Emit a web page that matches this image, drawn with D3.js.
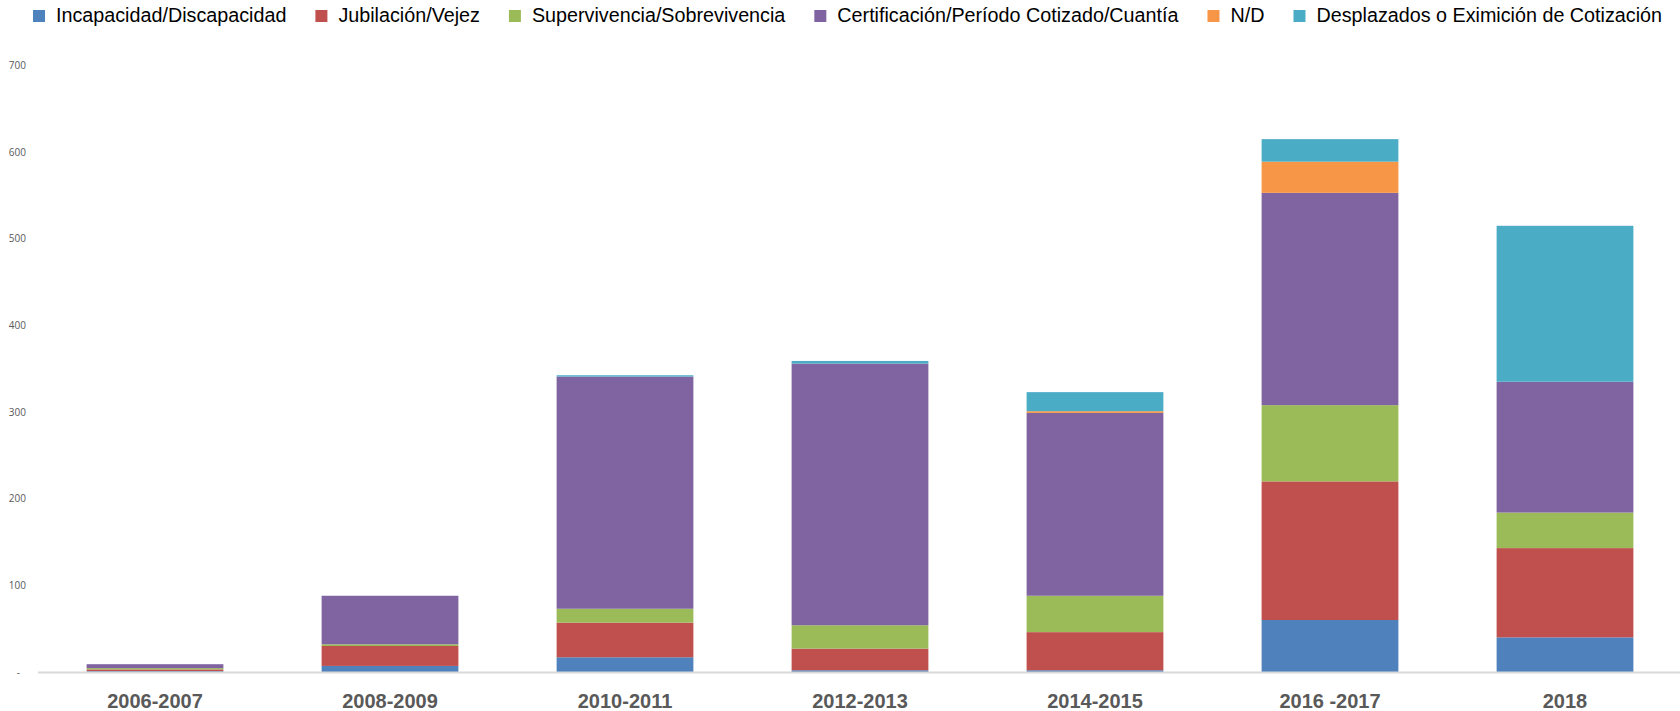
<!DOCTYPE html>
<html>
<head>
<meta charset="utf-8">
<script src="https://cdn.jsdelivr.net/npm/d3@7"></script>
<style>
  body { margin: 0; background: #fff; }
  svg { display: block; }
</style>
</head>
<body>
<svg width="1680" height="711"></svg>
<script>
var categories = ["2006-2007", "2008-2009", "2010-2011", "2012-2013", "2014-2015", "2016 -2017", "2018"];
var seriesNames = ["Incapacidad/Discapacidad", "Jubilación/Vejez", "Supervivencia/Sobrevivencia",
    "Certificación/Período Cotizado/Cuantía", "N/D", "Desplazados o Eximición de Cotización"];
var incapacidad   = [1, 7, 17, 2, 2, 60, 40];
var jubilacion    = [2, 23, 40, 25, 44, 160, 103];
var supervivencia = [1.5, 2, 16, 27, 42, 88, 41];
var certificacion = [4.5, 56, 268, 302, 211, 245, 151];
var nd            = [0, 0, 0, 0, 2, 36, 0];
var desplazados   = [0, 0, 1.5, 3, 22, 26, 180];
var yTicks = [0, 100, 200, 300, 400, 500, 600, 700];
var colors = ["#4F81BD", "#C0504D", "#9BBB59", "#8064A2", "#F79646", "#4BACC6"];

function main() {
    var svg = d3.select("svg");
    var allSeries = [incapacidad, jubilacion, supervivencia, certificacion, nd, desplazados];

    // rows for d3.stack
    var data = categories.map(function(c, i) {
        var row = { cat: c };
        seriesNames.forEach(function(s, j) { row[s] = allSeries[j][i]; });
        return row;
    });

    var x = d3.scaleBand()
        .domain(categories)
        .range([37.5, 1682.5])
        .paddingInner(0.418)
        .paddingOuter(0.209);

    var y = d3.scaleLinear()
        .domain([0, 700])
        .range([672, 65.5]);

    var color = d3.scaleOrdinal().domain(seriesNames).range(colors);

    // y labels (no axis line)
    var yAxis = svg.append("g")
        .attr("transform", "translate(26,0)")
        .call(d3.axisLeft(y).tickValues(yTicks).tickSize(0)
            .tickFormat(function(d) { return d === 0 ? "-" : d; }));
    yAxis.select(".domain").remove();
    yAxis.selectAll("text")
        .attr("x", function(d) { return d === 0 ? -6 : 0; })
        .attr("font-family", "'Open Sans', sans-serif")
        .attr("font-size", "10px")
        .attr("fill", "#595959");

    var stackedData = d3.stack().keys(seriesNames)(data);

    svg.append("g")
        .selectAll("g")
        .data(stackedData)
        .enter().append("g")
        .attr("fill", function(d) { return color(d.key); })
        .selectAll("rect")
        .data(function(d) { return d; })
        .enter().append("rect")
        .attr("x", function(d) { return x(d.data.cat); })
        .attr("y", function(d) { return y(d[1]); })
        .attr("height", function(d) { return y(d[0]) - y(d[1]); })
        .attr("width", x.bandwidth());

    // baseline
    svg.append("line")
        .attr("x1", 38).attr("x2", 1680)
        .attr("y1", y(0) + 0.5).attr("y2", y(0) + 0.5)
        .attr("stroke", "#D9D9D9")
        .attr("stroke-width", 2);

    // x labels
    var xAxis = svg.append("g")
        .attr("transform", "translate(0," + y(0) + ")")
        .call(d3.axisBottom(x).tickSize(0).tickPadding(22));
    xAxis.select(".domain").remove();
    xAxis.selectAll("text")
        .attr("font-family", "'Liberation Sans', Arial, sans-serif")
        .attr("font-weight", "bold")
        .attr("font-size", "20px")
        .attr("fill", "#595959");

    // legend: pick a font size so the row spans the same width as the original
    var legend = svg.append("g");
    var items = seriesNames.map(function(s) {
        var t = legend.append("text")
            .attr("y", 17)
            .attr("dominant-baseline", "middle")
            .attr("font-family", "'Liberation Sans', Arial, sans-serif")
            .attr("font-size", "21px")
            .attr("fill", "#000")
            .text(s);
        return { name: s, node: t };
    });
    var natural = d3.sum(items, function(d) { return d.node.node().getComputedTextLength(); });
    var fs = 21 * (1630 - (6 * 23 + 5 * 29)) / natural;
    var lx = 33;
    items.forEach(function(d) {
        legend.append("rect")
            .attr("x", lx).attr("y", 10)
            .attr("width", 12).attr("height", 12)
            .attr("fill", color(d.name));
        d.node.attr("x", lx + 23).attr("font-size", fs + "px");
        lx = lx + 23 + d.node.node().getComputedTextLength() + 29;
    });
}
main();
</script>
</body>
</html>
